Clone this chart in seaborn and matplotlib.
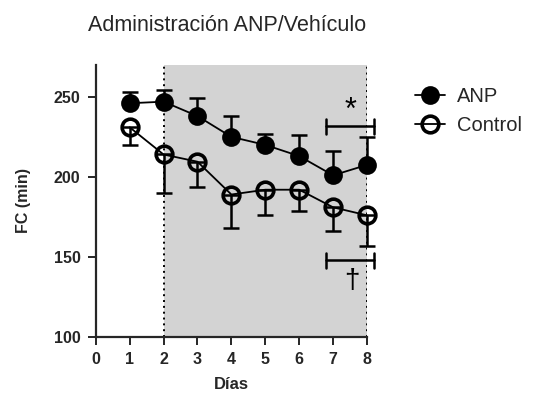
import numpy as np
import pandas as pd
import matplotlib
matplotlib.use("Agg")
import matplotlib.pyplot as plt
import seaborn as sns

# Data: heart rate (FC) per day for both groups
dias = [1, 2, 3, 4, 5, 6, 7, 8]
anp_mean = [246, 247, 238, 225, 220, 213, 201, 207.5]
anp_sem = [7, 7, 11, 13, 7, 13, 15, 17.5]
control_mean = [231, 214, 209.5, 189, 192, 192, 181, 176]
control_sem = [11, 24, 15.5, 21, 16, 13, 15, 19]
group_labels = ["ANP", "Control"]

sns.set_style("ticks")
plt.rcParams["font.family"] = ["Liberation Sans", "DejaVu Sans"]

fig = plt.figure(figsize=(5.35, 3.93), dpi=100)
ax = fig.add_axes([0.179, 0.1425, 0.507, 0.6925])

# Treatment period shading and dotted limits
ax.axvspan(2, 8, color="#d3d3d3", zorder=0, lw=0)
for xv in (2, 8):
    ax.axvline(xv, color="black", ls=(0, (1, 2)), lw=1.4, zorder=1)

df = pd.DataFrame({
    "Días": dias * 2,
    "FC": anp_mean + control_mean,
    "Grupo": [group_labels[0]] * len(dias) + [group_labels[1]] * len(dias),
})

# error bars: ANP upward, Control downward
ax.errorbar(dias, anp_mean, yerr=[np.zeros(len(dias)), anp_sem], fmt="none",
            ecolor="black", elinewidth=1.8, capsize=6, capthick=1.8, zorder=2, clip_on=False)
ax.errorbar(dias, control_mean, yerr=[control_sem, np.zeros(len(dias))], fmt="none",
            ecolor="black", elinewidth=1.8, capsize=6, capthick=1.8, zorder=2, clip_on=False)

sns.lineplot(data=df[df["Grupo"] == "ANP"], x="Días", y="FC", ax=ax, color="black",
             lw=1.3, marker="o", markersize=12, markerfacecolor="black",
             markeredgecolor="black", markeredgewidth=1.5, label="ANP", zorder=3, clip_on=False)
sns.lineplot(data=df[df["Grupo"] == "Control"], x="Días", y="FC", ax=ax, color="black",
             lw=1.3, marker="o", markersize=12, markerfacecolor="none",
             markeredgecolor="black", markeredgewidth=2.6, label="Control", zorder=3, clip_on=False)

# significance brackets
for yb in (231.5, 148):
    ax.plot([6.8, 8.2], [yb, yb], color="black", lw=1.8, clip_on=False, zorder=4)
    for xe in (6.8, 8.2):
        ax.plot([xe, xe], [yb - 4.7, yb + 4.7], color="black", lw=1.8, clip_on=False, zorder=4)
ax.text(7.5, 232, "*", ha="center", va="bottom", fontsize=22, color="black")
ax.text(7.55, 135, "†", ha="center", va="center", fontsize=20, color="black")

ax.set_xlim(0, 8)
ax.set_ylim(100, 270)
ax.set_xticks(range(0, 9))
ax.set_yticks([100, 150, 200, 250])
ax.tick_params(axis="both", direction="out", length=6, width=1.4, labelsize=11.5, pad=5)
for lab in ax.get_xticklabels() + ax.get_yticklabels():
    lab.set_fontweight("bold")
for s in ("top", "right"):
    ax.spines[s].set_visible(False)
for s in ("left", "bottom"):
    ax.spines[s].set_linewidth(1.6)

ax.set_xlabel("Días", fontsize=12, fontweight="bold", labelpad=7)
ax.set_ylabel("FC (min)", fontsize=11.5, fontweight="bold", labelpad=16)

fig.text(0.425, 0.935, "Administración ANP/Vehículo", ha="center", va="center", fontsize=15.5)

leg = ax.legend(loc="upper left", bbox_to_anchor=(1.11, 0.985), frameon=False,
                fontsize=14.5, handlelength=1.5, handletextpad=0.6, labelspacing=0.5)

fig.savefig("out.png", dpi=100)
